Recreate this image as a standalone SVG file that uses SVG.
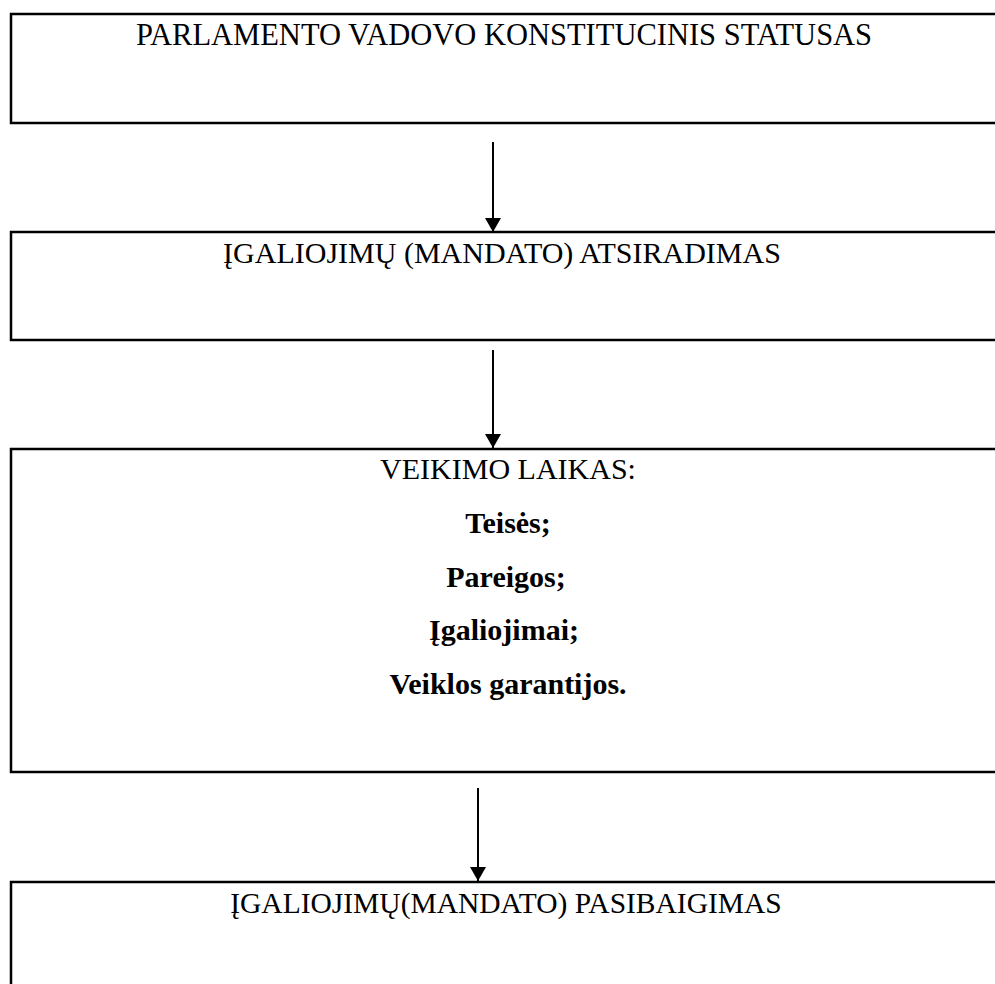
<svg xmlns="http://www.w3.org/2000/svg" width="995" height="984" viewBox="0 0 995 984">
<style>
.box{fill:none;stroke:#000;stroke-width:2.5}
.t{font-family:"Liberation Serif","Times New Roman",serif;font-size:30px;fill:#000;text-anchor:middle}
.b{font-weight:bold}
.c{stroke:#000;stroke-width:2;fill:none}
</style>
<defs>
<marker id="ah" markerWidth="14" markerHeight="16" refX="14" refY="8" orient="auto" markerUnits="userSpaceOnUse">
<path d="M0,0 L14,8 L0,16 Z" fill="#000"/>
</marker>
</defs>
<rect width="995" height="984" fill="#fff"/>
<g id="n1">
<path class="box" d="M1000,14 H11 V123 H1000"/>
<text class="t" x="504" y="45" style="font-size:30.5px">PARLAMENTO VADOVO KONSTITUCINIS STATUSAS</text>
</g>
<g id="n2">
<path class="box" d="M1000,232 H11 V340 H1000"/>
<text class="t" x="502" y="263">ĮGALIOJIMŲ (MANDATO) ATSIRADIMAS</text>
</g>
<g id="n3">
<path class="box" d="M1000,449 H11 V772 H1000"/>
<text class="t" x="508" y="479">VEIKIMO LAIKAS:</text>
<text class="t b" x="508" y="533">Teisės;</text>
<text class="t b" x="506" y="587">Pareigos;</text>
<text class="t b" x="504" y="640">Įgaliojimai;</text>
<text class="t b" x="508" y="694">Veiklos garantijos.</text>
</g>
<g id="n4">
<path class="box" d="M1000,882 H11 V990"/>
<text class="t" x="506" y="913" style="font-size:29.5px">ĮGALIOJIMŲ(MANDATO) PASIBAIGIMAS</text>
</g>
<g id="connectors">
<line class="c" x1="493" y1="142" x2="493" y2="232" marker-end="url(#ah)"/>
<line class="c" x1="493" y1="350" x2="493" y2="448" marker-end="url(#ah)"/>
<line class="c" x1="478" y1="788" x2="478" y2="881" marker-end="url(#ah)"/>
</g>
</svg>
